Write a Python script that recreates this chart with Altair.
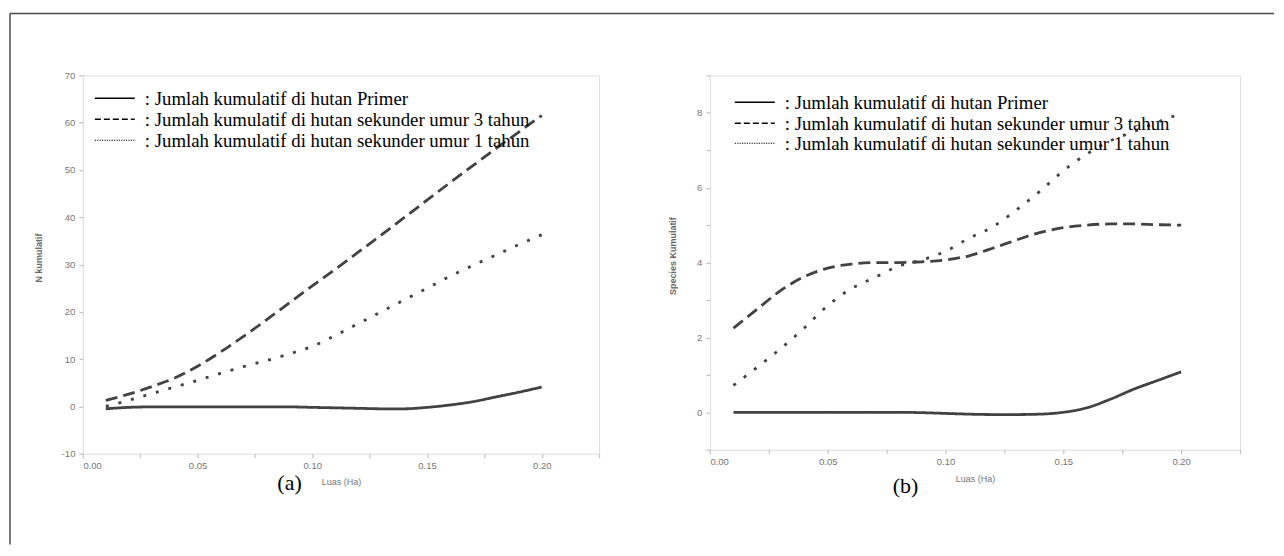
import altair as alt
import pandas as pd

# ---------------- data ----------------
luas = [0.01, 0.02, 0.03, 0.04, 0.05, 0.06, 0.07, 0.08, 0.09, 0.10,
        0.11, 0.12, 0.13, 0.14, 0.15, 0.16, 0.17, 0.18, 0.19, 0.20]

series_keys = ["primer", "sekunder3", "sekunder1"]
legend_labels = [
    ": Jumlah kumulatif di hutan Primer",
    ": Jumlah kumulatif di hutan sekunder umur 3 tahun",
    ": Jumlah kumulatif di hutan sekunder umur 1 tahun",
]

# panel (a): N kumulatif
a_primer = [-0.5, -0.2, -0.1, -0.1, -0.1, -0.1, -0.1, -0.1, -0.1, -0.2,
            -0.3, -0.4, -0.5, -0.5, -0.2, 0.3, 1.0, 2.0, 3.0, 4.1]
a_sek3 = [1.3, 2.6, 4.2, 6.0, 8.5, 11.5, 14.8, 18.3, 21.9, 25.5,
          29.0, 32.6, 36.2, 39.9, 43.6, 47.3, 50.9, 54.5, 58.0, 61.5]
a_sek1 = [0.0, 1.3, 2.7, 4.1, 5.5, 7.0, 8.4, 9.7, 11.1, 12.7,
          15.0, 17.5, 20.0, 22.5, 25.0, 27.5, 29.8, 32.0, 34.2, 36.3]

# panel (b): Species kumulatif
b_primer = [0.0, 0.0, 0.0, 0.0, 0.0, 0.0, 0.0, 0.0, -0.01, -0.03,
            -0.05, -0.06, -0.06, -0.05, 0.0, 0.12, 0.35, 0.62, 0.85, 1.08]
b_sek3 = [2.25, 2.75, 3.25, 3.62, 3.85, 3.96, 4.0, 4.0, 4.02, 4.07,
          4.18, 4.38, 4.6, 4.8, 4.93, 5.0, 5.03, 5.03, 5.01, 5.0]
b_sek1 = [0.72, 1.2, 1.7, 2.25, 2.85, 3.3, 3.6, 3.9, 4.07, 4.3,
          4.65, 4.95, 5.4, 5.9, 6.45, 6.9, 7.25, 7.5, 7.75, 7.98]

x_ticks = [0.0, 0.025, 0.05, 0.075, 0.1, 0.125, 0.15, 0.175, 0.2, 0.225]
a_y_ticks = [-10, 0, 10, 20, 30, 40, 50, 60, 70]
b_y_ticks = [-1, 0, 1, 2, 3, 4, 5, 6, 7, 8, 9]

x_title = "Luas (Ha)"
a_y_title = "N kumulatif"
b_y_title = "Species Kumulatif"
panel_tags = ["(a)", "(b)"]

# ---------------- styles ----------------
LINE_COLOR = "#424242"
AXIS_GRAY = "#c4c4c4"
LABEL_GRAY = "#767676"
SERIF = "Liberation Serif"
SANS = "Liberation Sans"
plot_dash = [[1, 0], [12, 6], [3, 10]]
legend_dash = [None, [6, 3], [1.2, 1.2]]


def long_df(values_list):
    rows = []
    for key, vals in zip(series_keys, values_list):
        for x, v in zip(luas, vals):
            rows.append({"luas": x, "nilai": v, "seri": key})
    return pd.DataFrame(rows)


one_row = pd.DataFrame({"k": [0]})


def make_panel(values_list, ydom, yticks, ylabel_expr, ytitle, w, h,
               ytitle_x, xtitle_y, leg_x0, leg_rows, tag, tag_x, tag_y,
               extra=None):
    df = long_df(values_list)
    x_axis = alt.Axis(
        values=x_ticks,
        labelExpr="abs(datum.value*20 - round(datum.value*20)) < 0.001 ? format(datum.value, '.2f') : ''",
        tickSize=4, tickColor=AXIS_GRAY, tickWidth=1.2, domain=False, grid=False,
        labelPadding=3, labelFontSize=9.5, labelFont=SANS, labelColor=LABEL_GRAY,
        title=x_title, titleFontSize=9, titleFont=SANS, titleFontWeight="normal",
        titleColor=LABEL_GRAY, titleX=w / 2, titleY=xtitle_y,
        titleBaseline="middle", titleAlign="center",
    )
    y_axis = alt.Axis(
        values=yticks, labelExpr=ylabel_expr,
        tickSize=4, tickColor=AXIS_GRAY, tickWidth=1.2, domain=False, grid=False,
        labelPadding=4, labelFontSize=9.5, labelFont=SANS, labelColor=LABEL_GRAY,
        title=ytitle, titleFontSize=9, titleFont=SANS, titleFontWeight="bold",
        titleColor="#666666", titleX=ytitle_x, titleY=h / 2 - 7,
        titleAngle=270, titleAlign="center", titleBaseline="middle",
    )
    lines = alt.Chart(df).mark_line(
        color=LINE_COLOR, strokeWidth=2.8, interpolate="monotone"
    ).encode(
        x=alt.X("luas:Q", scale=alt.Scale(domain=[0, 0.225], nice=False, zero=False), axis=x_axis),
        y=alt.Y("nilai:Q", scale=alt.Scale(domain=ydom, nice=False, zero=False), axis=y_axis),
        strokeDash=alt.StrokeDash(
            "seri:N", scale=alt.Scale(domain=series_keys, range=plot_dash), legend=None
        ),
    )
    layers = [lines]
    for i, label in enumerate(legend_labels):
        ry = leg_rows[i]
        rule_kwargs = dict(color="black", strokeWidth=1.4 if i < 2 else 1.1)
        if legend_dash[i] is not None:
            rule_kwargs["strokeDash"] = legend_dash[i]
        layers.append(
            alt.Chart(one_row).mark_rule(**rule_kwargs).encode(
                x=alt.value(leg_x0), x2=alt.value(leg_x0 + 40), y=alt.value(ry)
            )
        )
        layers.append(
            alt.Chart(pd.DataFrame({"label": [label]})).mark_text(
                align="left", baseline="middle", font=SERIF, fontSize=18.8, color="black"
            ).encode(x=alt.value(leg_x0 + 50), y=alt.value(ry + 1), text="label:N")
        )
    layers.append(
        alt.Chart(pd.DataFrame({"tag": [tag]})).mark_text(
            align="center", baseline="middle", font=SERIF, fontSize=22, color="black"
        ).encode(x=alt.value(tag_x), y=alt.value(tag_y), text="tag:N")
    )
    if extra:
        layers.extend(extra)
    return alt.layer(*layers).properties(width=w, height=h)


# outer frame of the figure (drawn relative to panel a's plot area)
frame_top = alt.Chart(one_row).mark_rule(color="#4a4a4a", strokeWidth=1.5).encode(
    x=alt.value(-73), x2=alt.value(1193), y=alt.value(-62)
)
frame_left = alt.Chart(one_row).mark_rule(color="#4a4a4a", strokeWidth=1.5).encode(
    x=alt.value(-73), y=alt.value(-62), y2=alt.value(470)
)

panel_a = make_panel(
    [a_primer, a_sek3, a_sek1], [-10, 70], a_y_ticks, "'' + datum.value", a_y_title,
    517, 379, -44, 28, 12, [23, 44, 65], panel_tags[0], 207, 408,
    extra=[frame_top, frame_left],
)
panel_b = make_panel(
    [b_primer, b_sek3, b_sek1], [-1, 9], b_y_ticks,
    "datum.value % 2 == 0 ? '' + datum.value : ''", b_y_title,
    531, 375, -37, 29, 25, [27, 48, 68], panel_tags[1], 196, 411,
)

chart = alt.hconcat(panel_a, panel_b, spacing=111, bounds="flush").properties(
    padding={"left": 0, "top": 3, "right": 0, "bottom": 0}
).configure_view(stroke="#d0d0d0", strokeWidth=2).configure(background="white")

chart.save("out.html", embed_options={"renderer": "svg", "actions": False})
